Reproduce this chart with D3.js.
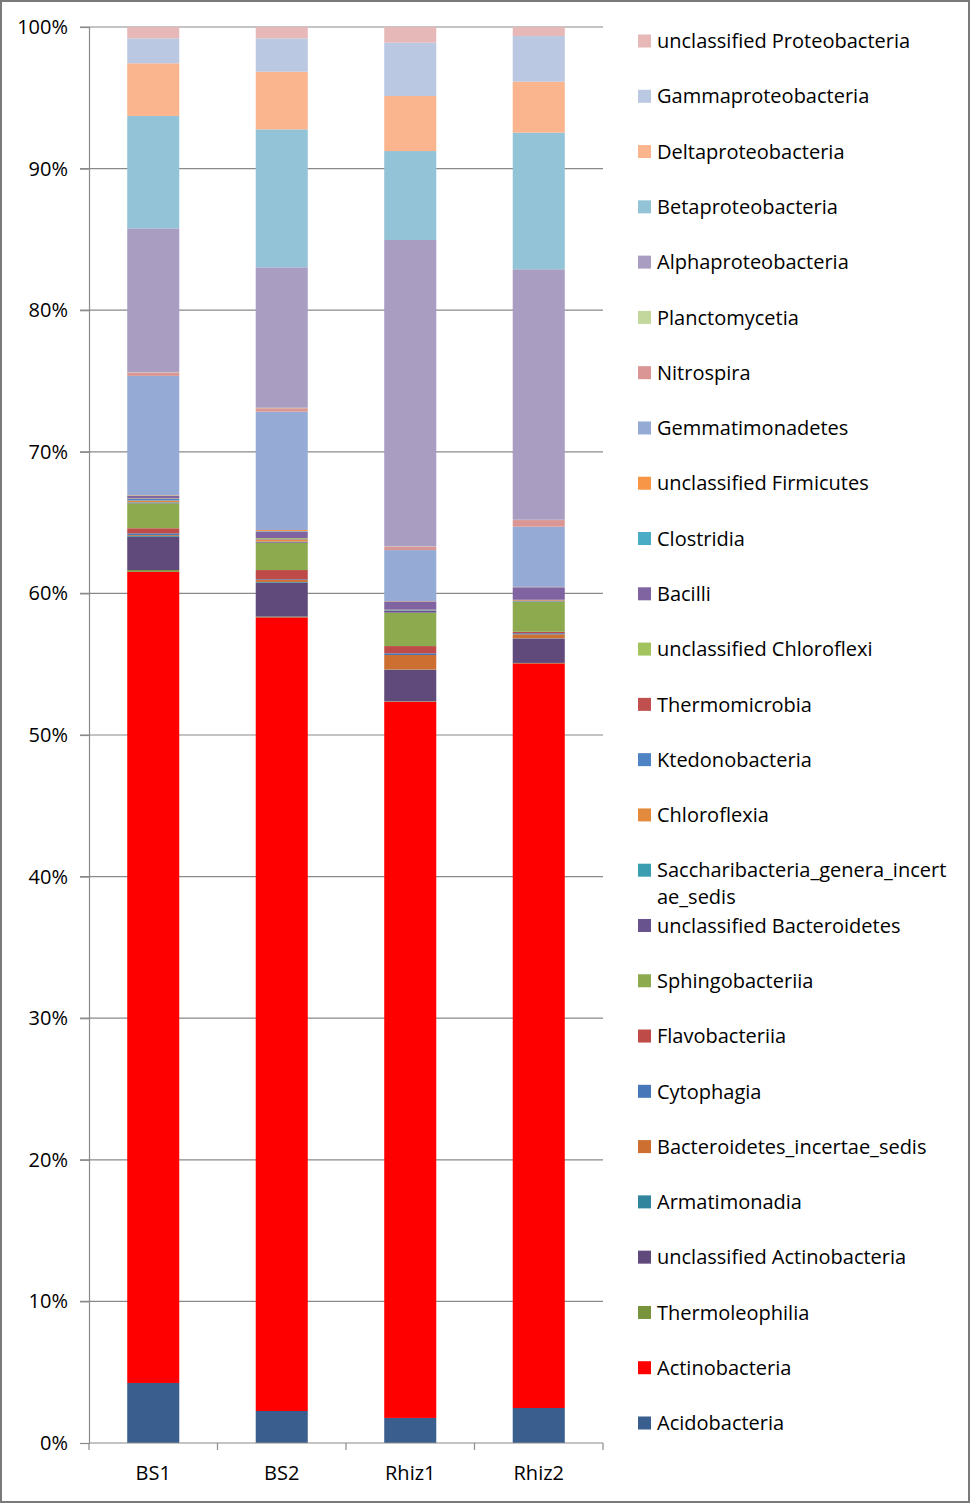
<!DOCTYPE html>
<html>
<head>
<meta charset="utf-8">
<script src="https://cdn.jsdelivr.net/npm/d3@7"></script>
<style>
  body { margin: 0; background: #fff; }
  text { font-family: "Open Sans", sans-serif; fill: #000; }
</style>
</head>
<body>
<script>
// Samples on the x axis
var samples = ["BS1", "BS2", "Rhiz1", "Rhiz2"];

// Taxa, bottom of the stack first
var taxa = [
  "Acidobacteria", "Actinobacteria", "Thermoleophilia", "unclassified Actinobacteria",
  "Armatimonadia", "Bacteroidetes_incertae_sedis", "Cytophagia", "Flavobacteriia",
  "Sphingobacteriia", "unclassified Bacteroidetes", "Saccharibacteria_genera_incertae_sedis",
  "Chloroflexia", "Ktedonobacteria", "Thermomicrobia", "unclassified Chloroflexi",
  "Bacilli", "Clostridia", "unclassified Firmicutes", "Gemmatimonadetes", "Nitrospira",
  "Planctomycetia", "Alphaproteobacteria", "Betaproteobacteria", "Deltaproteobacteria",
  "Gammaproteobacteria", "unclassified Proteobacteria"
];

var colors = [
  "#3a5f8e", "#ff0000", "#77933c", "#604a7b",
  "#31859c", "#cd6f31", "#4677b8", "#be4b48",
  "#8daa4e", "#68538f", "#3b9db0",
  "#e48a3c", "#4f84c4", "#c0504d", "#a2c35e",
  "#8064a2", "#4bacc6", "#f79646", "#95abd5", "#d99694",
  "#c3d69b", "#a99dc2", "#93c3d6", "#fab48e",
  "#bac8e2", "#e6b9b8"
];

// Relative abundance (%) per sample, same order as taxa
var bs1 = [4.24, 57.29, 0.12, 2.35, 0.06, 0.06, 0.12, 0.36, 1.76, 0.04, 0.04,
  0.12, 0.14, 0.02, 0.02, 0.15, 0.02, 0.03, 8.42, 0.24, 0.02, 10.16, 7.94, 3.72, 1.76, 0.80];
var bs2 = [2.26, 56.05, 0.05, 2.40, 0.05, 0.14, 0.05, 0.65, 1.93, 0.05, 0.03,
  0.11, 0.03, 0.03, 0.07, 0.47, 0.03, 0.08, 8.35, 0.25, 0.03, 9.92, 9.74, 4.07, 2.36, 0.80];
var rhiz1 = [1.77, 50.58, 0.03, 2.21, 0.03, 1.03, 0.12, 0.51, 2.36, 0.12, 0.04,
  0.01, 0.01, 0.01, 0.02, 0.58, 0.01, 0.02, 3.60, 0.24, 0.02, 21.64, 6.28, 3.89, 3.76, 1.11];
var rhiz2 = [2.47, 52.59, 0.03, 1.72, 0.02, 0.28, 0.08, 0.10, 2.12, 0.03, 0.02,
  0.05, 0.01, 0.01, 0.02, 0.88, 0.01, 0.02, 4.25, 0.47, 0.02, 17.69, 9.65, 3.60, 3.22, 0.64];

var yTicks = [0, 0.1, 0.2, 0.3, 0.4, 0.5, 0.6, 0.7, 0.8, 0.9, 1];

var width = 970, height = 1503;
var plot = { left: 89, right: 603, top: 27, bottom: 1443 };
var fontSize = "20px";

// build rows for d3.stack
var valueSets = [bs1, bs2, rhiz1, rhiz2];
var rows = samples.map(function(s, i) {
  var row = { sample: s };
  taxa.forEach(function(t, j) { row[t] = valueSets[i][j]; });
  return row;
});

var series = d3.stack().keys(taxa).offset(d3.stackOffsetExpand)(rows);

var color = d3.scaleOrdinal().domain(taxa).range(colors);

var x = d3.scaleBand()
  .domain(samples)
  .range([plot.left, plot.right])
  .paddingInner(0.595)
  .paddingOuter(0.2975);

var y = d3.scaleLinear().domain([0, 1]).range([plot.bottom, plot.top]);

var svg = d3.select("body").append("svg")
  .attr("width", width)
  .attr("height", height);

svg.append("rect")
  .attr("x", 1).attr("y", 1)
  .attr("width", width - 2).attr("height", height - 2)
  .attr("fill", "#fff")
  .attr("stroke", "#7a7a7a")
  .attr("stroke-width", 2);

// gridlines (they also act as the outside ticks of the y axis)
svg.append("g")
  .selectAll("line")
  .data(yTicks.slice(1))
  .enter().append("line")
  .attr("x1", plot.left - 9)
  .attr("x2", plot.right)
  .attr("y1", d => y(d))
  .attr("y2", d => y(d))
  .attr("stroke", "#8a8a8a")
  .attr("stroke-width", 1.2);

// y axis
var yAxis = svg.append("g")
  .attr("transform", "translate(" + plot.left + ",0)")
  .call(d3.axisLeft(y).tickValues(yTicks).tickFormat(d3.format(".0%")).tickSize(9).tickPadding(12));
yAxis.select(".domain").attr("stroke", "#8a8a8a").attr("stroke-width", 1.2);
yAxis.selectAll(".tick line").attr("stroke", "#8a8a8a").attr("stroke-width", 1.2);
yAxis.selectAll(".tick text")
  .style("font-family", "'Open Sans', sans-serif")
  .style("font-size", fontSize)
  .attr("fill", "#000");

// bars
svg.append("g")
  .selectAll("g")
  .data(series)
  .enter().append("g")
  .attr("fill", d => color(d.key))
  .selectAll("rect")
  .data(d => d)
  .enter().append("rect")
  .attr("x", d => x(d.data.sample))
  .attr("width", x.bandwidth())
  .attr("y", d => y(d[1]))
  .attr("height", d => y(d[0]) - y(d[1]));

// x axis: line, ticks between categories, labels
var xAxis = svg.append("g")
  .attr("transform", "translate(0," + plot.bottom + ")")
  .call(d3.axisBottom(x).tickSize(0).tickPadding(23));
xAxis.select(".domain").remove();
xAxis.selectAll(".tick text")
  .style("font-family", "'Open Sans', sans-serif")
  .style("font-size", fontSize)
  .attr("fill", "#000");

var bounds = samples.map(s => x(s) + x.bandwidth() / 2 - x.step() / 2);
bounds.push(x(samples[samples.length - 1]) + x.bandwidth() / 2 + x.step() / 2);

xAxis.append("line")
  .attr("x1", bounds[0]).attr("x2", bounds[bounds.length - 1])
  .attr("y1", 0).attr("y2", 0)
  .attr("stroke", "#8a8a8a").attr("stroke-width", 1.2);
xAxis.selectAll(".bound")
  .data(bounds)
  .enter().append("line")
  .attr("class", "bound")
  .attr("x1", d => d).attr("x2", d => d)
  .attr("y1", 0).attr("y2", 7)
  .attr("stroke", "#8a8a8a").attr("stroke-width", 1.2);

// legend, top item is the top of the stack
var legendItems = taxa.slice().reverse();
var ly = d3.scaleLinear().domain([0, legendItems.length - 1]).range([41, 1423]);

var legend = svg.append("g")
  .selectAll("g")
  .data(legendItems)
  .enter().append("g")
  .attr("transform", (d, i) => "translate(638," + ly(i) + ")");

legend.append("rect")
  .attr("x", 0).attr("y", -6.5)
  .attr("width", 13).attr("height", 13)
  .attr("fill", d => color(d));

legend.append("text")
  .attr("x", 19)
  .attr("dy", "0.36em")
  .style("font-size", fontSize)
  .each(function(d) {
    var t = d3.select(this);
    if (d === "Saccharibacteria_genera_incertae_sedis") {
      t.append("tspan").attr("x", 19).text("Saccharibacteria_genera_incert");
      t.append("tspan").attr("x", 19).attr("dy", 27).text("ae_sedis");
    } else {
      t.text(d);
    }
  });
</script>
</body>
</html>
